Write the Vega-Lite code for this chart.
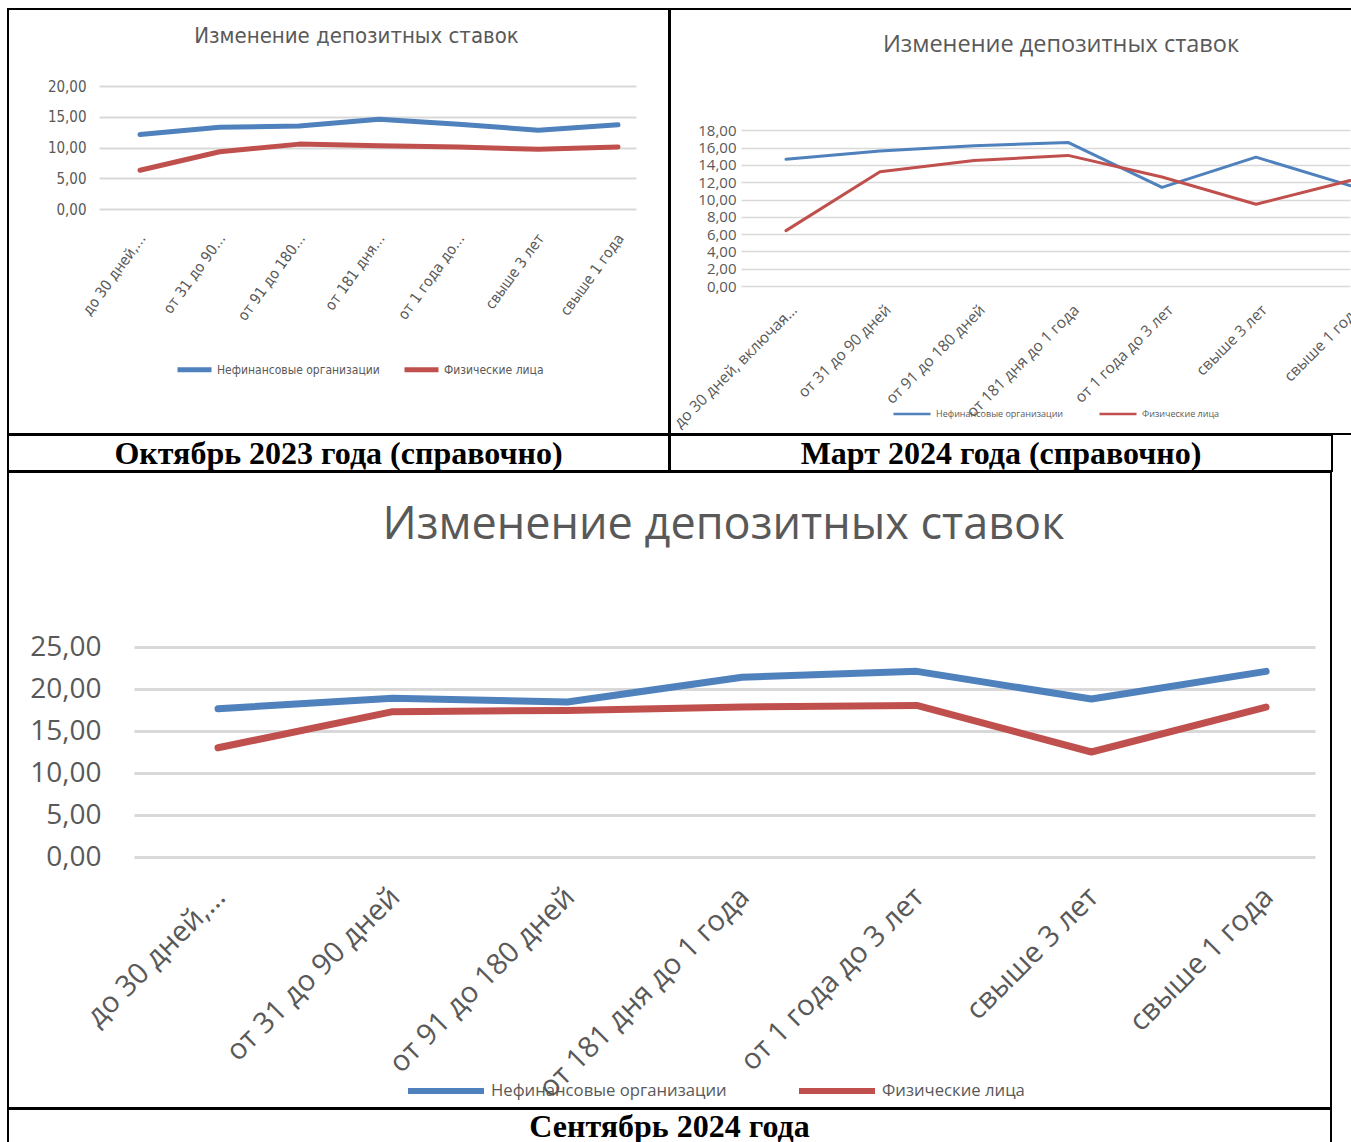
{
  "$schema": "https://vega.github.io/schema/vega-lite/v6.json",
  "padding": {"left": 7, "top": 8, "right": 0, "bottom": 0},
  "background": "white",
  "spacing": -2,
  "config": {"font": "Open Sans", "view": {"stroke": null}},
  "resolve": {"scale": {"x": "independent", "y": "independent", "color": "independent"}, "axis": {"x": "independent", "y": "independent"}, "legend": {"color": "independent"}},
  "vconcat": [
    {
      "hconcat": [
        {
          "width": 661,
          "height": 425,
          "view": {"stroke": "black", "strokeWidth": 2},
          "title": {"text": "Изменение депозитных ставок", "font": "DejaVu Sans Condensed, sans-serif", "fontSize": 22, "fontWeight": "normal", "color": "#595959", "anchor": "middle", "frame": "group", "offset": -56, "dx": 18, "baseline": "alphabetic"},
          "data": {"values": [
            {"term": "до 30 дней, включая «до востребования»", "series": "Нефинансовые организации", "rate": 12.1},
            {"term": "от 31 до 90 дней", "series": "Нефинансовые организации", "rate": 13.3},
            {"term": "от 91 до 180 дней", "series": "Нефинансовые организации", "rate": 13.5},
            {"term": "от 181 дня до 1 года", "series": "Нефинансовые организации", "rate": 14.6},
            {"term": "от 1 года до 3 лет", "series": "Нефинансовые организации", "rate": 13.8},
            {"term": "свыше 3 лет", "series": "Нефинансовые организации", "rate": 12.8},
            {"term": "свыше 1 года", "series": "Нефинансовые организации", "rate": 13.7},
            {"term": "до 30 дней, включая «до востребования»", "series": "Физические лица", "rate": 6.3},
            {"term": "от 31 до 90 дней", "series": "Физические лица", "rate": 9.3},
            {"term": "от 91 до 180 дней", "series": "Физические лица", "rate": 10.55},
            {"term": "от 181 дня до 1 года", "series": "Физические лица", "rate": 10.3},
            {"term": "от 1 года до 3 лет", "series": "Физические лица", "rate": 10.1},
            {"term": "свыше 3 лет", "series": "Физические лица", "rate": 9.7},
            {"term": "свыше 1 года", "series": "Физические лица", "rate": 10.1}
          ]},
          "mark": {"type": "line", "strokeWidth": 5, "strokeCap": "round", "strokeJoin": "round"},
          "encoding": {
            "x": {"field": "term", "type": "nominal", "sort": null,
              "scale": {"type": "point", "range": [91, 628], "padding": 0.37, "align": 0.695},
              "axis": {"title": null, "domain": false, "ticks": false, "tickSize": 0, "grid": false, "labelAngle": 306, "labelAlign": "right", "labelBaseline": "middle", "labelPadding": 26, "labelOffset": 2, "labelFont": "DejaVu Sans Condensed, sans-serif", "labelFontSize": 15, "labelColor": "#595959", "labelLimit": 1000, "labelOverlap": false, "offset": -225,
                "labelExpr": "datum.label == 'до 30 дней, включая «до востребования»' ? 'до 30 дней,…' : datum.label == 'от 31 до 90 дней' ? 'от 31 до 90…' : datum.label == 'от 91 до 180 дней' ? 'от 91 до 180…' : datum.label == 'от 181 дня до 1 года' ? 'от 181 дня…' : datum.label == 'от 1 года до 3 лет' ? 'от 1 года до…' : datum.label"}},
            "y": {"field": "rate", "type": "quantitative",
              "scale": {"domain": [0, 20], "range": [200, 77], "nice": false, "zero": true},
              "axis": {"title": null, "values": [0, 5, 10, 15, 20], "domain": false, "ticks": false, "tickSize": 0, "grid": true, "gridColor": "#D9D9D9", "gridWidth": 2, "labelPadding": 0, "offset": -78, "labelFont": "DejaVu Sans Condensed, sans-serif", "labelFontSize": 15, "labelColor": "#595959", "labelExpr": "replace(format(datum.value, '.2f'), '.', ',')"}},
            "color": {"field": "series", "type": "nominal",
              "scale": {"domain": ["Нефинансовые организации", "Физические лица"], "range": ["#4F81BD", "#C0504D"]},
              "legend": {"orient": "none", "legendX": 167, "legendY": 341, "direction": "horizontal", "title": null, "symbolType": "stroke", "symbolSize": 1156, "symbolStrokeWidth": 5, "labelFont": "DejaVu Sans Condensed, sans-serif", "labelFontSize": 12, "labelColor": "#595959", "labelOffset": 3, "labelLimit": 1000, "columnPadding": 14}}
          }
        },
        {
          "width": 700,
          "height": 425,
          "view": {"stroke": "black", "strokeWidth": 2},
          "title": {"text": "Изменение депозитных ставок", "font": "Open Sans", "fontSize": 23.5, "fontWeight": "normal", "color": "#595959", "anchor": "middle", "frame": "group", "offset": -66, "dx": 41, "baseline": "alphabetic"},
          "data": {"values": [
            {"term": "до 30 дней, включая «до востребования»", "series": "Нефинансовые организации", "rate": 14.65},
            {"term": "от 31 до 90 дней", "series": "Нефинансовые организации", "rate": 15.6},
            {"term": "от 91 до 180 дней", "series": "Нефинансовые организации", "rate": 16.2},
            {"term": "от 181 дня до 1 года", "series": "Нефинансовые организации", "rate": 16.6},
            {"term": "от 1 года до 3 лет", "series": "Нефинансовые организации", "rate": 11.4},
            {"term": "свыше 3 лет", "series": "Нефинансовые организации", "rate": 14.9},
            {"term": "свыше 1 года", "series": "Нефинансовые организации", "rate": 11.6},
            {"term": "до 30 дней, включая «до востребования»", "series": "Физические лица", "rate": 6.4},
            {"term": "от 31 до 90 дней", "series": "Физические лица", "rate": 13.2},
            {"term": "от 91 до 180 дней", "series": "Физические лица", "rate": 14.5},
            {"term": "от 181 дня до 1 года", "series": "Физические лица", "rate": 15.1},
            {"term": "от 1 года до 3 лет", "series": "Физические лица", "rate": 12.6},
            {"term": "свыше 3 лет", "series": "Физические лица", "rate": 9.45},
            {"term": "свыше 1 года", "series": "Физические лица", "rate": 12.2}
          ]},
          "mark": {"type": "line", "strokeWidth": 3, "strokeCap": "round", "strokeJoin": "round"},
          "encoding": {
            "x": {"field": "term", "type": "nominal", "sort": null,
              "scale": {"type": "point", "range": [71, 680], "padding": 0.2394, "align": 1},
              "axis": {"title": null, "domain": false, "ticks": false, "tickSize": 0, "grid": false, "labelAngle": 315, "labelAlign": "right", "labelBaseline": "middle", "labelPadding": 21, "labelOffset": 8, "labelFont": "Open Sans", "labelFontSize": 15.5, "labelColor": "#595959", "labelLimit": 1000, "labelOverlap": false, "offset": -148,
                "labelExpr": "datum.label == 'до 30 дней, включая «до востребования»' ? 'до 30 дней, включая…' : datum.label"}},
            "y": {"field": "rate", "type": "quantitative",
              "scale": {"domain": [0, 18], "range": [277, 121.3], "nice": false, "zero": true},
              "axis": {"title": null, "values": [0, 2, 4, 6, 8, 10, 12, 14, 16, 18], "domain": false, "ticks": false, "tickSize": 0, "grid": true, "gridColor": "#D9D9D9", "gridWidth": 1.5, "labelPadding": 0, "offset": -66, "labelFont": "Open Sans", "labelFontSize": 15, "labelColor": "#595959", "labelExpr": "replace(format(datum.value, '.2f'), '.', ',')"}},
            "color": {"field": "series", "type": "nominal",
              "scale": {"domain": ["Нефинансовые организации", "Физические лица"], "range": ["#4F81BD", "#C0504D"]},
              "legend": {"orient": "none", "legendX": 222, "legendY": 385, "direction": "horizontal", "title": null, "symbolType": "stroke", "symbolSize": 1369, "symbolStrokeWidth": 2.5, "labelFont": "Open Sans", "labelFontSize": 9, "labelColor": "#595959", "labelOffset": 4, "labelLimit": 1000, "columnPadding": 30}}
          }
        }
      ],
      "spacing": -2,
      "resolve": {"scale": {"x": "independent", "y": "independent", "color": "independent"}, "axis": {"x": "independent", "y": "independent"}, "legend": {"color": "independent"}}
    },
    {
      "hconcat": [
        {
          "width": 661,
          "height": 36,
          "view": {"stroke": "black", "strokeWidth": 2},
          "data": {"values": [{"caption": "Октябрь 2023 года (справочно)"}]},
          "mark": {"type": "text", "font": "Liberation Serif", "fontSize": 32, "fontWeight": "bold", "color": "black", "align": "center", "baseline": "middle", "dy": 1},
          "encoding": {"text": {"field": "caption", "type": "nominal"}}
        },
        {
          "width": 662,
          "height": 36,
          "view": {"stroke": "black", "strokeWidth": 2},
          "data": {"values": [{"caption": "Март 2024 года (справочно)"}]},
          "mark": {"type": "text", "font": "Liberation Serif", "fontSize": 32, "fontWeight": "bold", "color": "black", "align": "center", "baseline": "middle", "dy": 1},
          "encoding": {"text": {"field": "caption", "type": "nominal"}}
        }
      ],
      "spacing": -2
    },
    {
      "width": 1323,
      "height": 636,
      "view": {"stroke": "black", "strokeWidth": 2},
      "title": {"text": "Изменение депозитных ставок", "font": "Open Sans", "fontSize": 45, "fontWeight": "normal", "color": "#595959", "anchor": "middle", "frame": "group", "offset": -112, "dx": 54, "baseline": "alphabetic"},
      "data": {"values": [
        {"term": "до 30 дней, включая «до востребования»", "series": "Нефинансовые организации", "rate": 17.65},
        {"term": "от 31 до 90 дней", "series": "Нефинансовые организации", "rate": 18.9},
        {"term": "от 91 до 180 дней", "series": "Нефинансовые организации", "rate": 18.45},
        {"term": "от 181 дня до 1 года", "series": "Нефинансовые организации", "rate": 21.4},
        {"term": "от 1 года до 3 лет", "series": "Нефинансовые организации", "rate": 22.1},
        {"term": "свыше 3 лет", "series": "Нефинансовые организации", "rate": 18.8},
        {"term": "свыше 1 года", "series": "Нефинансовые организации", "rate": 22.1},
        {"term": "до 30 дней, включая «до востребования»", "series": "Физические лица", "rate": 13.0},
        {"term": "от 31 до 90 дней", "series": "Физические лица", "rate": 17.3},
        {"term": "от 91 до 180 дней", "series": "Физические лица", "rate": 17.45},
        {"term": "от 181 дня до 1 года", "series": "Физические лица", "rate": 17.85},
        {"term": "от 1 года до 3 лет", "series": "Физические лица", "rate": 18.05},
        {"term": "свыше 3 лет", "series": "Физические лица", "rate": 12.5},
        {"term": "свыше 1 года", "series": "Физические лица", "rate": 17.85}
      ]},
      "mark": {"type": "line", "strokeWidth": 7, "strokeCap": "round", "strokeJoin": "round"},
      "encoding": {
        "x": {"field": "term", "type": "nominal", "sort": null,
          "scale": {"type": "point", "range": [126, 1307], "padding": 0.3806, "align": 0.632},
          "axis": {"title": null, "domain": false, "ticks": false, "tickSize": 0, "grid": false, "labelAngle": 315, "labelAlign": "right", "labelBaseline": "middle", "labelPadding": 35, "labelOffset": 2, "labelFont": "Open Sans", "labelFontSize": 29, "labelColor": "#595959", "labelLimit": 1000, "labelOverlap": false, "offset": -251,
            "labelExpr": "datum.label == 'до 30 дней, включая «до востребования»' ? 'до 30 дней,…' : datum.label"}},
        "y": {"field": "rate", "type": "quantitative",
          "scale": {"domain": [0, 25], "range": [385, 175], "nice": false, "zero": true},
          "axis": {"title": null, "values": [0, 5, 10, 15, 20, 25], "domain": false, "ticks": false, "tickSize": 0, "grid": true, "gridColor": "#D9D9D9", "gridWidth": 3, "labelPadding": 0, "offset": -93, "labelFont": "Open Sans", "labelFontSize": 28, "labelColor": "#595959", "labelExpr": "replace(format(datum.value, '.2f'), '.', ',')"}},
        "color": {"field": "series", "type": "nominal",
          "scale": {"domain": ["Нефинансовые организации", "Физические лица"], "range": ["#4F81BD", "#C0504D"]},
          "legend": {"orient": "none", "legendX": 397, "legendY": 578, "direction": "horizontal", "title": null, "symbolType": "stroke", "symbolSize": 5776, "symbolStrokeWidth": 6, "labelFont": "Open Sans", "labelFontSize": 16.7, "labelColor": "#595959", "labelOffset": 4, "labelLimit": 1000, "columnPadding": 60}}
      }
    },
    {
      "width": 1323,
      "height": 40,
      "view": {"stroke": "black", "strokeWidth": 2},
      "data": {"values": [{"caption": "Сентябрь 2024 года"}]},
      "mark": {"type": "text", "font": "Liberation Serif", "fontSize": 32, "fontWeight": "bold", "color": "black", "align": "center", "baseline": "middle", "dy": -2},
      "encoding": {"text": {"field": "caption", "type": "nominal"}}
    }
  ]
}
